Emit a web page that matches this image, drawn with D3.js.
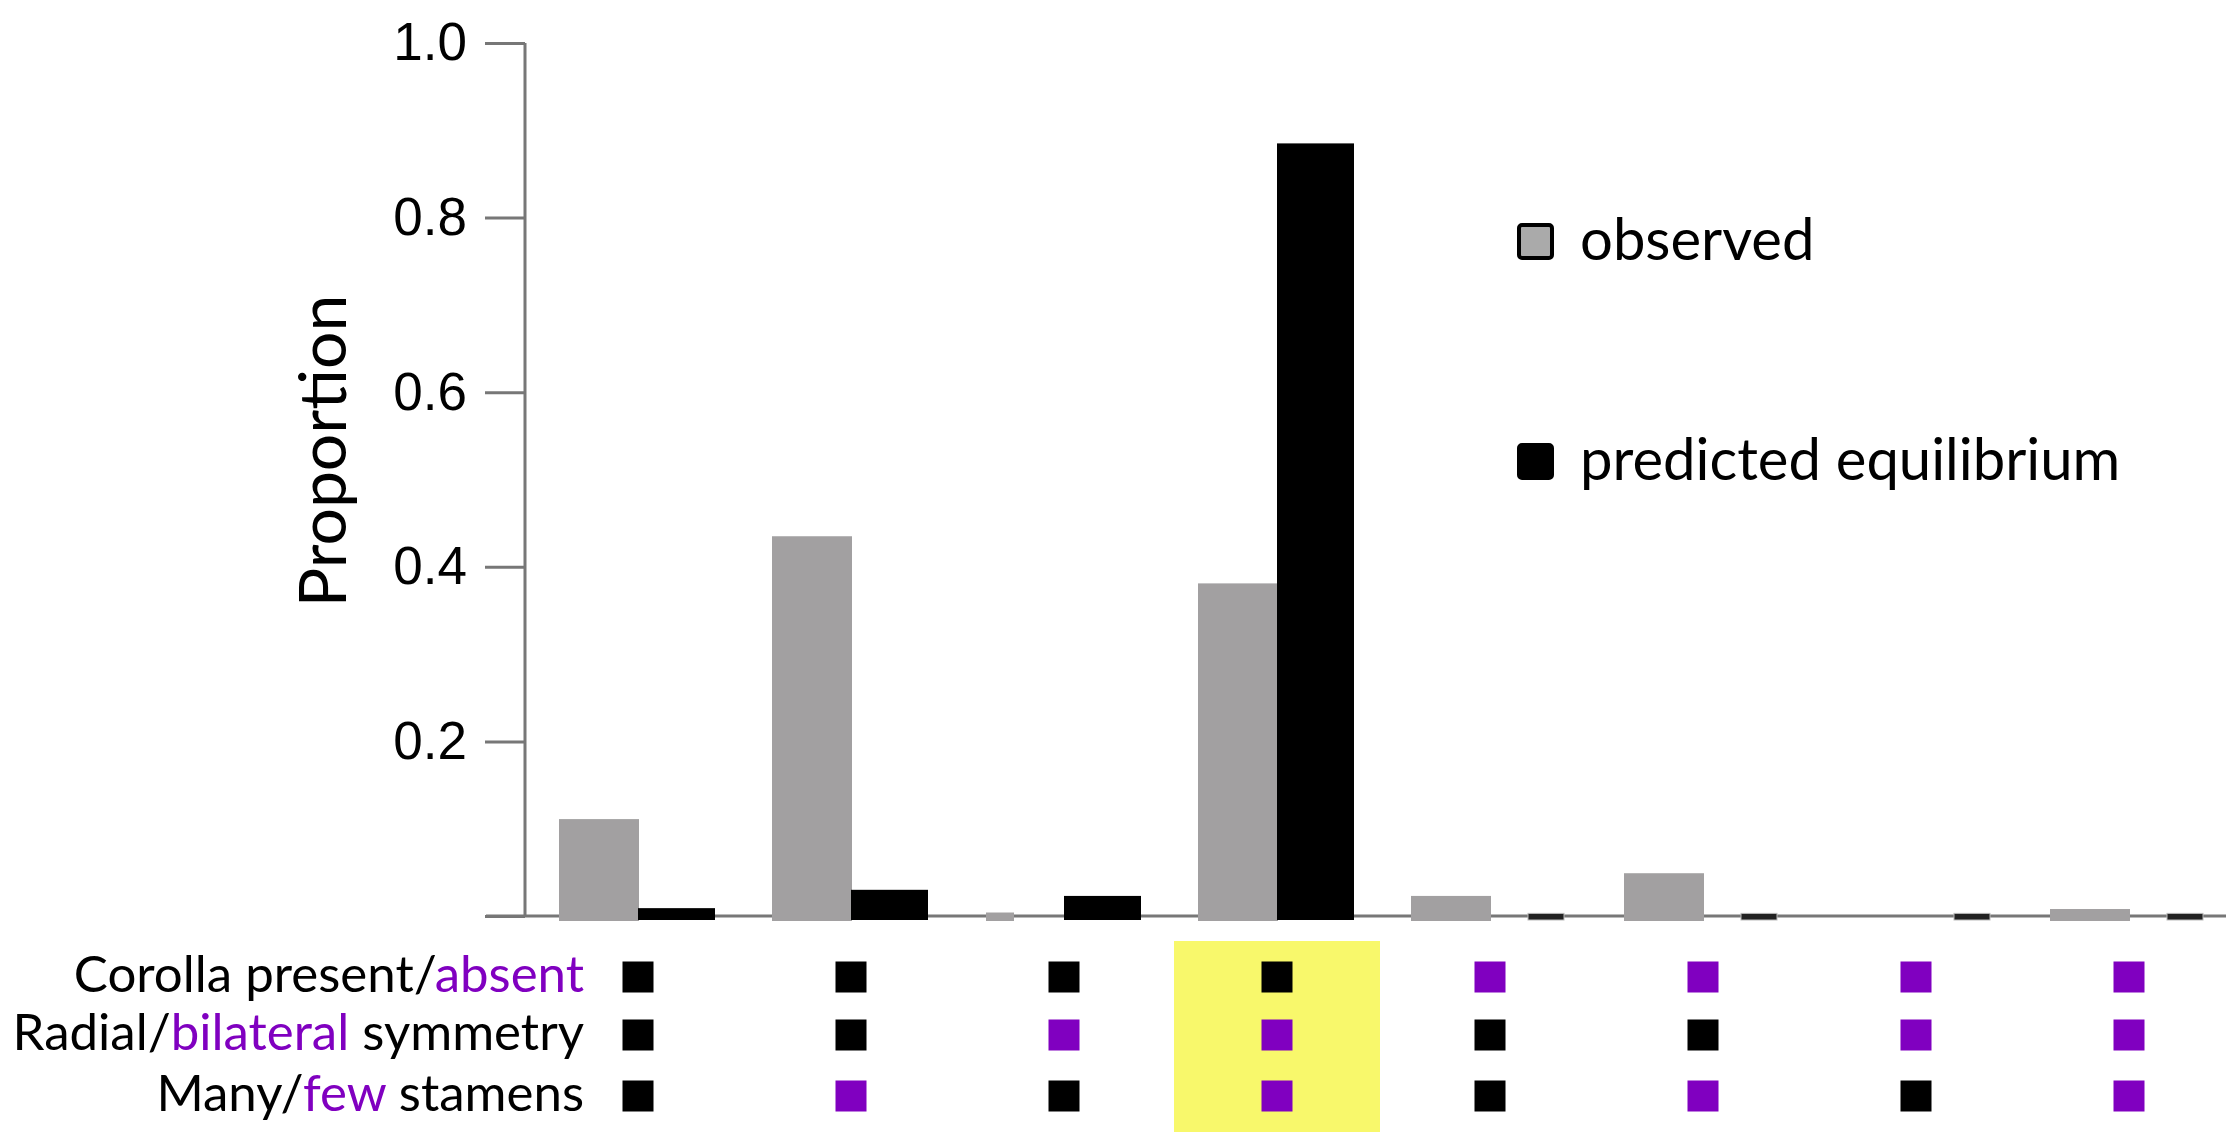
<!DOCTYPE html>
<html>
<head>
<meta charset="utf-8">
<script src="https://cdn.jsdelivr.net/npm/d3@7"></script>
<style>
  html, body { margin: 0; padding: 0; background: #fff; }
  svg { display: block; }
</style>
</head>
<body>
<div id="chart"></div>
<script>
(function () {
  'use strict';

  // trait combinations, left to right (0 = first state / black, 1 = second state / purple)
  const combos = ["C-R-M", "C-R-F", "C-B-M", "C-B-F", "A-R-M", "A-R-F", "A-B-M", "A-B-F"];
  const observed = [0.111, 0.435, 0.004, 0.381, 0.023, 0.049, 0.0, 0.008];
  const predicted = [0.009, 0.030, 0.023, 0.885, 0.003, 0.003, 0.003, 0.003];
  const corolla = [0, 0, 0, 0, 1, 1, 1, 1];
  const symmetry = [0, 0, 1, 1, 0, 0, 1, 1];
  const stamens = [0, 1, 0, 1, 0, 1, 0, 1];
  const yTicks = [0, 0.2, 0.4, 0.6, 0.8, 1.0];
  const highlighted = "C-B-F";

  const W = 2240, H = 1132;
  const GRAY = "#a2a0a1", PURPLE = "#8000c0", AXIS = "#777";
  const sans = "Lato, 'Open Sans', sans-serif";
  const helv = "'Liberation Sans', Arial, sans-serif";

  const svg = d3.select("#chart").append("svg")
    .attr("width", W).attr("height", H);
  svg.append("rect").attr("width", W).attr("height", H).attr("fill", "#fff");

  const y = d3.scaleLinear().domain([0, 1]).range([916, 43]);
  const x = d3.scaleBand().domain(combos).range([531.5, 2235.5]).padding(0);
  const cx = d => x(d) + x.bandwidth() / 2;

  // highlight column
  svg.append("rect")
    .attr("x", cx(highlighted) - 103).attr("y", 941)
    .attr("width", 206).attr("height", H - 941)
    .attr("fill", "#f8f86b");

  // y axis
  const yAxis = d3.axisLeft(y).tickValues(yTicks).tickSize(40).tickPadding(18)
    .tickFormat(d => d === 0 ? "" : d3.format(".1f")(d));
  const gy = svg.append("g").attr("transform", "translate(525,0)").call(yAxis);
  gy.select(".domain").attr("d", `M0,${y(1)}V${y(0)}`).attr("stroke", AXIS).attr("stroke-width", 3);
  gy.selectAll(".tick line").attr("stroke", AXIS).attr("stroke-width", 3);
  gy.selectAll(".tick text").attr("font-family", helv).attr("font-size", 53).attr("fill", "#000");

  // baseline
  svg.append("line")
    .attr("x1", 486).attr("x2", 2226).attr("y1", y(0)).attr("y2", y(0))
    .attr("stroke", AXIS).attr("stroke-width", 3);

  // bars
  const rows = combos.map((c, i) => ({ c, obs: observed[i], pred: predicted[i] }));
  const tiny = 0.006;
  svg.append("g").selectAll("rect").data(rows.filter(d => d.obs > 0)).join("rect")
    .attr("x", d => d.obs < tiny ? cx(d.c) - 78 : cx(d.c) - 79)
    .attr("width", d => d.obs < tiny ? 28 : 80)
    .attr("y", d => y(d.obs))
    .attr("height", d => y(0) + 5 - y(d.obs))
    .attr("fill", GRAY);
  svg.append("g").selectAll("rect").data(rows).join("rect")
    .attr("x", d => d.pred < tiny ? cx(d.c) + 38 : cx(d.c))
    .attr("width", d => d.pred < tiny ? 36 : 77)
    .attr("y", d => y(d.pred))
    .attr("height", d => y(0) + 4 - y(d.pred))
    .attr("fill", d => d.pred < tiny ? "#222" : "#000")
    .attr("stroke", d => d.pred < tiny ? "#bbb" : "none")
    .attr("stroke-width", 1);

  // y label
  svg.append("text")
    .attr("transform", "translate(346,451) rotate(-90)")
    .attr("text-anchor", "middle")
    .attr("font-family", sans).attr("font-size", 66)
    .text("Proportion");

  // legend
  const legend = [
    { label: "observed", fill: "#aaa", y: 241 },
    { label: "predicted equilibrium", fill: "#000", y: 461 }
  ];
  const lg = svg.append("g").selectAll("g").data(legend).join("g")
    .attr("transform", d => `translate(1517,${d.y})`);
  lg.append("rect").attr("x", 2).attr("y", -16).attr("width", 33).attr("height", 33)
    .attr("rx", 3).attr("fill", d => d.fill).attr("stroke", "#000").attr("stroke-width", 4);
  lg.append("text").attr("x", 63).attr("y", 19)
    .attr("font-family", sans).attr("font-size", 58)
    .text(d => d.label);

  // trait matrix
  const traits = [
    { parts: [["Corolla present/", "#000"], ["absent", PURPLE]], vals: corolla, y: 977 },
    { parts: [["Radial/", "#000"], ["bilateral", PURPLE], [" symmetry", "#000"]], vals: symmetry, y: 1035 },
    { parts: [["Many/", "#000"], ["few", PURPLE], [" stamens", "#000"]], vals: stamens, y: 1096 }
  ];
  traits.forEach(t => {
    const txt = svg.append("text")
      .attr("x", 584).attr("y", t.y + 15)
      .attr("text-anchor", "end")
      .attr("font-family", sans).attr("font-size", 51)
      .attr("xml:space", "preserve");
    t.parts.forEach(p => txt.append("tspan").attr("fill", p[1]).text(p[0]));
    svg.append("g").selectAll("rect").data(combos).join("rect")
      .attr("x", d => cx(d) - 15.5).attr("y", t.y - 15.5)
      .attr("width", 31).attr("height", 31)
      .attr("fill", (d, i) => t.vals[i] ? PURPLE : "#000");
  });
})();
</script>
</body>
</html>
